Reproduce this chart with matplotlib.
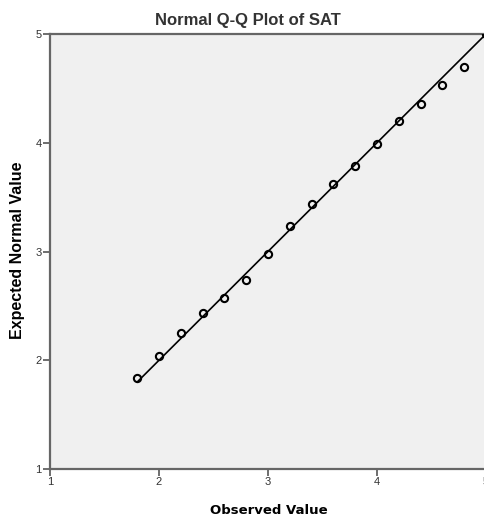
import matplotlib.pyplot as plt

plt.rcParams['font.family'] = ['Liberation Sans', 'DejaVu Sans']

# observed SAT values and their expected normal values
observed = [1.8, 2.0, 2.2, 2.4, 2.6, 2.8, 3.0, 3.2, 3.4, 3.6, 3.8, 4.0, 4.2, 4.4, 4.6, 4.8, 5.0]
expected = [1.84, 2.04, 2.25, 2.43, 2.57, 2.74, 2.98, 3.23, 3.44, 3.62, 3.79, 3.99, 4.20, 4.36, 4.53, 4.70, 5.0]

ticks = [1, 2, 3, 4, 5]

fig = plt.figure(figsize=(4.84, 5.18), dpi=100)
ax = fig.add_axes([50 / 484, 49 / 518, 436 / 484, 435 / 518])
ax.set_facecolor('#f0f0f0')

# reference line y = x over the observed range
ax.plot([min(observed), max(observed)], [min(observed), max(observed)],
        color='black', lw=1.2, zorder=2)
ax.plot(observed, expected, 'o', mfc='none', mec='black', mew=1.5,
        markersize=5.2, zorder=3)

ax.set_xlim(1, 5)
ax.set_ylim(1, 5)
ax.set_xticks(ticks)
ax.set_yticks(ticks)
ax.tick_params(direction='out', length=5, width=1.2, color='#555555',
               labelsize=8, labelcolor='#333333', pad=1)

for side in ['left', 'bottom', 'top']:
    ax.spines[side].set_color('#666666')
    ax.spines[side].set_linewidth(1.6)
ax.spines['right'].set_visible(False)

fig.text(248 / 484, 1 - 21 / 518, 'Normal Q-Q Plot of SAT', fontsize=12,
         fontweight='bold', color='#333333', ha='center', va='center')
fig.text(269 / 484, 1 - 511 / 518, 'Observed Value', fontsize=9.5,
         fontweight='bold', family='DejaVu Sans', ha='center', va='center')
fig.text(18 / 484, 1 - 250 / 518, 'Expected Normal Value', fontsize=11.5,
         fontweight='bold', rotation=90, ha='center', va='center')

fig.savefig('out.png', dpi=100)
